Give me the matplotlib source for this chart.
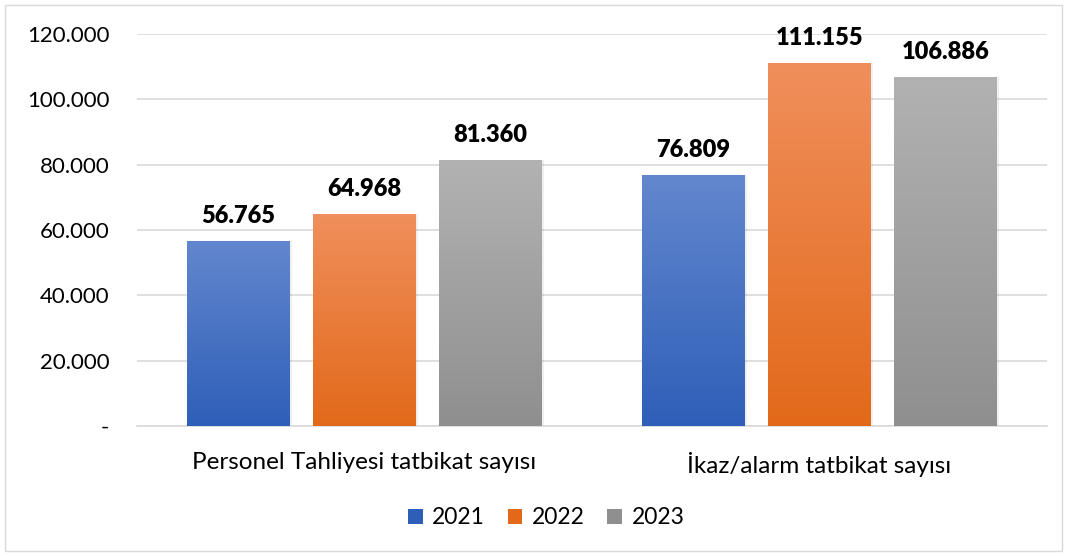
#!/usr/bin/env python3
"""Grouped bar chart: tatbikat counts per year, with Excel-style gradient bars."""

import numpy as np
import matplotlib
matplotlib.use('Agg')
import matplotlib.pyplot as plt
from matplotlib.colors import LinearSegmentedColormap
from matplotlib.patches import Patch, Rectangle
from matplotlib.ticker import FuncFormatter

categories = ['Personel Tahliyesi tatbikat sayısı', 'İkaz/alarm tatbikat sayısı']
years = ['2021', '2022', '2023']
values_2021 = [56765, 76809]
values_2022 = [64968, 111155]
values_2023 = [81360, 106886]
yticks = [0, 20000, 40000, 60000, 80000, 100000, 120000]

# (top colour, bottom colour) of each series' gradient
grad = [('#6387CE', '#2E5FB8'), ('#F08F5C', '#E2691A'), ('#B2B2B2', '#8F8F8F')]

plt.rcParams['font.family'] = ['Lato', 'DejaVu Sans']

fig = plt.figure(figsize=(10.67, 5.56), dpi=100)
ax = fig.add_axes([137 / 1067, 130 / 556, 910 / 1067, 392 / 556])

x = np.arange(len(categories))
width = 0.226
step = 0.277
series = [values_2021, values_2022, values_2023]

for i, vals in enumerate(series):
    pos = x + (i - 1) * step
    bars = ax.bar(pos, vals, width=width, color='none', edgecolor='none', zorder=3)
    cmap = LinearSegmentedColormap.from_list(f'g{i}', [grad[i][1], grad[i][0]])
    for b, v in zip(bars, vals):
        x0, w, h = b.get_x(), b.get_width(), b.get_height()
        # soft shadow
        ax.add_patch(Rectangle((x0 + 0.004, 0), w, h, facecolor='#000000',
                               alpha=0.06, edgecolor='none', zorder=2))
        img = ax.imshow(np.linspace(0, 1, 256).reshape(-1, 1), cmap=cmap,
                        extent=[x0, x0 + w, 0, h], origin='lower',
                        aspect='auto', zorder=3)
        img.set_clip_path(b)
        ax.annotate(f'{v:,}'.replace(',', '.'), (x0 + w / 2, h),
                    xytext=(0, 13), textcoords='offset points',
                    ha='center', va='baseline', fontsize=17,
                    fontweight='heavy', color='#000000', zorder=4)

ax.set_xlim(-0.5, 1.5)
ax.set_ylim(0, 120000)
ax.set_yticks(yticks)
ax.yaxis.set_major_formatter(FuncFormatter(
    lambda v, _: '-' if v == 0 else f'{int(v):,}'.replace(',', '.')))
ax.set_xticks(x)
ax.set_xticklabels(categories)
ax.tick_params(axis='y', length=0, pad=20, labelsize=16, colors='#000000')
ax.tick_params(axis='x', length=0, pad=19, labelsize=17.5, colors='#000000')
ax.grid(axis='y', color='#D9D9D9', linewidth=1.2, zorder=0)
ax.set_axisbelow(True)
for s in ['top', 'right', 'left']:
    ax.spines[s].set_visible(False)
ax.spines['bottom'].set_color('#D9D9D9')
ax.spines['bottom'].set_linewidth(1.2)

handles = [Patch(facecolor=grad[i][1], edgecolor='none') for i in range(3)]
fig.legend(handles, years, loc='center', bbox_to_anchor=(546 / 1067, 1 - 518 / 556),
           ncol=3, frameon=False, fontsize=16.5, handlelength=0.65,
           handleheight=0.65, handletextpad=0.4, columnspacing=1.0)

fig.patches.append(Rectangle((5 / 1067, 5 / 556), 1057 / 1067, 546 / 556,
                             transform=fig.transFigure, fill=False,
                             edgecolor='#D9D9D9', linewidth=1))

fig.savefig('out.png', dpi=100)
